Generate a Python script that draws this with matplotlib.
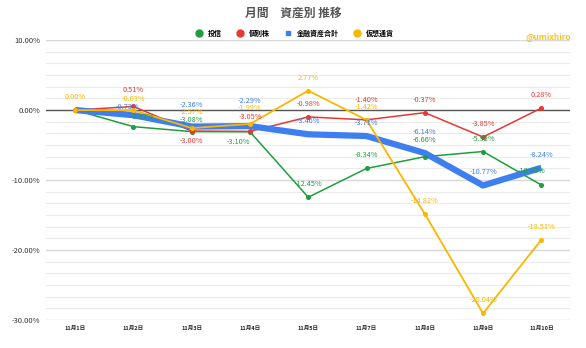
import numpy as np
import matplotlib
matplotlib.use('Agg')
import matplotlib.pyplot as plt
from matplotlib.lines import Line2D

plt.rcParams['font.family'] = ['Noto Sans CJK JP', 'DejaVu Sans']

dates = ['11月1日', '11月2日', '11月3日', '11月4日', '11月5日',
         '11月7日', '11月8日', '11月9日', '11月10日']

toshin = [0.00, -2.37, -3.08, -3.10, -12.45, -8.34, -6.66, -5.92, -10.70]
kobetsu = [0.00, 0.51, -3.00, -3.05, -0.98, -1.40, -0.37, -3.85, 0.28]
total = [0.00, -0.73, -2.36, -2.29, -3.46, -3.71, -6.14, -10.77, -8.24]
crypto = [0.00, -0.03, -2.57, -1.99, 2.77, -1.42, -14.82, -29.04, -18.51]

series = [
    ('投信', toshin, '#1e9e3e', 1.1, 'o'),
    ('個別株', kobetsu, '#e53935', 1.1, 'o'),
    ('金融資産合計', total, '#3d7ff0', 4.5, 's'),
    ('仮想通貨', crypto, '#f9b700', 1.3, 'o'),
]

# label placement (pixels above the point, horizontal shift) where labels crowd
label_pos = {
    ('個別株', 1): (16, 0), ('仮想通貨', 1): (11, 0), ('金融資産合計', 1): (8, -6),
    ('投信', 1): (10, 9),
    ('個別株', 2): (-10, 0), ('金融資産合計', 2): (22, 0), ('仮想通貨', 2): (16, 0),
    ('投信', 2): (12, 0),
    ('投信', 3): (-10, -12), ('金融資産合計', 3): (25, 0), ('仮想通貨', 3): (16, 0),
    ('個別株', 3): (14, 0),
    ('個別株', 5): (20, 0),
    ('金融資産合計', 6): (21, 0), ('投信', 6): (17, 0),
    ('投信', 8): (14, -10),
}

fig = plt.figure(figsize=(5.86, 3.48), dpi=100)
ax = fig.add_axes([0.0785, 0.080, 0.895, 0.805])

x = np.arange(len(dates))

# grid: major every 10%, minor every 1/6 of that
for v in np.arange(-30, 10.01, 10 / 6):
    ax.axhline(v, color='#ebebeb', lw=0.8, zorder=0)
for v in [-30, -20, -10, 10]:
    ax.axhline(v, color='#d9d9d9', lw=1.0, zorder=0)
ax.axhline(0, color='#555555', lw=1.0, zorder=1)

for name, vals, col, lw, mk in series:
    ax.plot(x, vals, color=col, lw=lw, zorder=3, solid_capstyle='butt')
    if lw < 2:
        ax.plot(x, vals, 'o', color=col, ms=2.6, zorder=4)
    for i, v in enumerate(vals):
        if i == 0 and name != '仮想通貨':
            continue
        dy, dx = label_pos.get((name, i), (13, 0))
        ax.annotate('%.2f%%' % v, (i, v), xytext=(dx * 0.72, dy * 0.72),
                    textcoords='offset points', ha='center', va='center',
                    fontsize=5.3, color=col, zorder=5)

ax.set_xlim(-0.5, 8.5)
ax.set_ylim(-30, 10)
ax.set_yticks([-30, -20, -10, 0, 10])
ax.set_yticklabels(['%.2f%%' % v for v in [-30, -20, -10, 0, 10]], fontsize=5.5, color='#333333')
ax.set_xticks(x)
ax.set_xticklabels(dates, fontsize=4, fontweight='bold', color='#222222')
ax.tick_params(length=0, pad=4)
for s in ax.spines.values():
    s.set_visible(False)

fig.text(0.5, 0.962, '月間　資産別 推移', ha='center', va='center',
         fontsize=8.5, fontweight='bold', color='#555555')

handles = []
for name, vals, col, lw, mk in series:
    handles.append(Line2D([], [], marker=mk, color=col, lw=0,
                          ms=5 if mk == 'o' else 3.5, label=name))
fig.legend(handles=handles, loc='center', bbox_to_anchor=(0.5, 0.905), ncol=4,
           frameon=False, handletextpad=0.3, columnspacing=1.6,
           prop={'weight': 'bold', 'size': 5})

fig.text(0.975, 0.893, '@umixhiro', ha='right', va='center', fontsize=6,
         fontweight='bold', color='#f5b800', alpha=0.85)

fig.savefig('out.png', dpi=100)
